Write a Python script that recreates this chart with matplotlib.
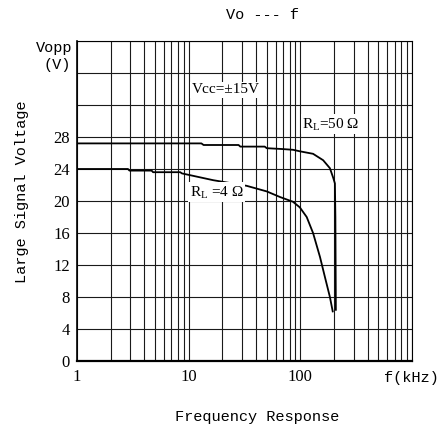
import matplotlib
matplotlib.use('Agg')
import matplotlib.pyplot as plt
from matplotlib.ticker import LogLocator, NullFormatter

plt.rcParams['mathtext.fontset'] = 'custom'
plt.rcParams['mathtext.rm'] = 'Liberation Serif'

# R_L = 50 ohm curve (f in kHz, Vopp in V)
f_50 = [1, 13, 13.6, 28, 29, 48, 50, 68, 86, 100, 130, 160, 184, 197, 204, 206, 207, 208]
v_50 = [27.2, 27.2, 27.0, 27.0, 26.8, 26.8, 26.6, 26.5, 26.4, 26.2, 25.9, 25.1, 24.1, 22.9, 22.2, 18.0, 12.0, 6.4]

# R_L = 4 ohm curve
f_4 = [1, 2.86, 2.95, 4.66, 4.8, 8.4, 8.7, 16.6, 33, 50, 65.7, 86, 99, 114, 130, 150, 166, 184, 195]
v_4 = [24.0, 24.0, 23.8, 23.8, 23.6, 23.6, 23.45, 22.6, 21.9, 21.2, 20.5, 19.9, 19.2, 18.0, 16.0, 13.0, 10.5, 8.0, 6.2]

x_ticks = [1, 10, 100, 1000]
x_labels = ['1', '10', '100', '']
y_ticks = list(range(0, 41, 4))
y_labels = [str(v) if v <= 28 else '' for v in y_ticks]

mono = 'Liberation Mono'
serif = 'Liberation Serif'

fig = plt.figure(figsize=(4.42, 4.32), dpi=100)
ax = fig.add_axes([77/442, 1 - 361/432, 335/442, 320/432])
ax.set_xscale('log')
ax.set_xlim(1, 1000)
ax.set_ylim(0, 40)

ax.set_xticks(x_ticks)
ax.set_xticklabels(x_labels, fontfamily=serif, fontsize=12)
ax.xaxis.set_minor_locator(LogLocator(base=10, subs=range(2, 10)))
ax.xaxis.set_minor_formatter(NullFormatter())
ax.set_yticks(y_ticks)
ax.set_yticklabels(y_labels, fontfamily=serif, fontsize=12)
ax.tick_params(which='both', length=0)
ax.tick_params(axis='x', pad=6)
ax.tick_params(axis='y', pad=5)

ax.grid(True, which='both', color='#1a1a1a', linewidth=0.8)
for side in ['top', 'right']:
    ax.spines[side].set_linewidth(0.8)
ax.spines['left'].set_linewidth(1.2)
ax.spines['bottom'].set_linewidth(1.6)

ax.plot(f_50, v_50, color='black', linewidth=1.3, zorder=3)
ax.plot(f_4, v_4, color='black', linewidth=1.3, zorder=3)

box = dict(facecolor='white', edgecolor='none', pad=1)
ax.text(10.6, 33.9, 'Vcc=±15V', fontfamily=serif, fontsize=11, va='center', ha='left', bbox=box)
ax.text(104, 29.6, r'R$_{\mathrm{L}}$=50 Ω', fontfamily=serif, fontsize=11, va='center', ha='left', bbox=box)
ax.text(10.2, 21.1, r'R$_{\mathrm{L}}$ =4 Ω', fontfamily=serif, fontsize=11, va='center', ha='left', bbox=box)

fig.text(262/442, 1 - 15/432, 'Vo --- f', fontfamily=mono, fontsize=11, ha='center', va='center')
fig.text(22/442, 1 - 192/432, 'Large Signal Voltage', fontfamily=mono, fontsize=11,
         rotation=90, ha='center', va='center')
fig.text(257/442, 1 - 417/432, 'Frequency Response', fontfamily=mono, fontsize=11, ha='center', va='center')
fig.text(411/442, 1 - 378/432, 'f(kHz)', fontfamily=mono, fontsize=11, ha='center', va='center')
fig.text(72/442, 1 - 48/432, 'Vopp', fontfamily=mono, fontsize=11, ha='right', va='center')
fig.text(71/442, 1 - 65/432, '(V)', fontfamily=mono, fontsize=11, ha='right', va='center')

fig.savefig('out.png', dpi=100)
